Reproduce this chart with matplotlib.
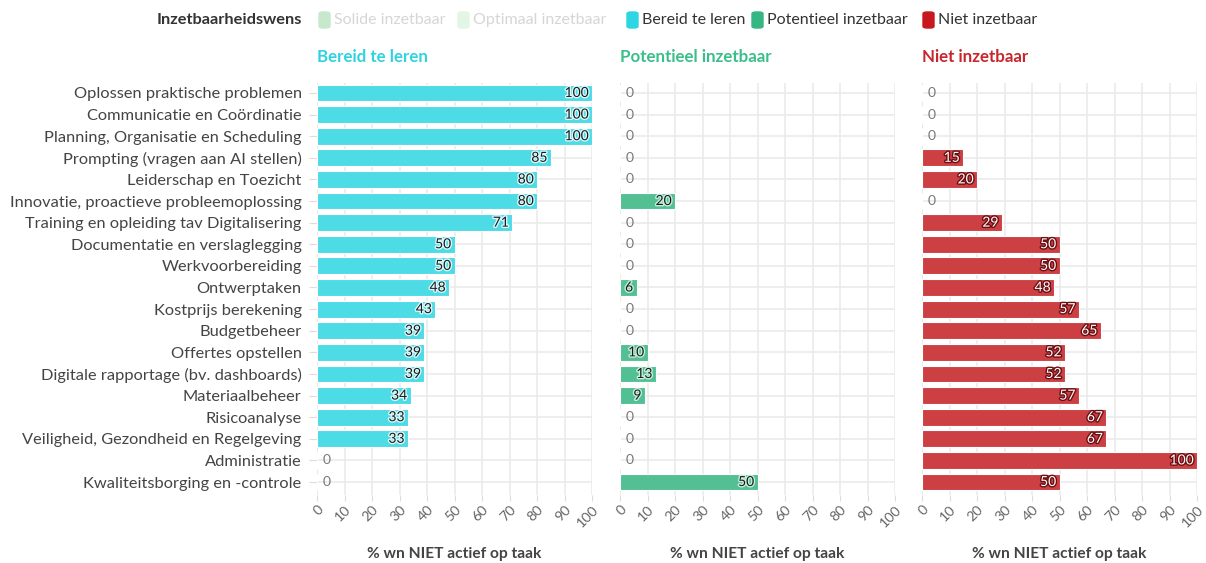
import numpy as np
import matplotlib
matplotlib.use("Agg")
from matplotlib import pyplot as plt
from matplotlib.patches import FancyBboxPatch
import matplotlib.patheffects as pe

plt.rcParams['font.family'] = ['Lato', 'DejaVu Sans']

taken = [
    "Oplossen praktische problemen",
    "Communicatie en Coördinatie",
    "Planning, Organisatie en Scheduling",
    "Prompting (vragen aan AI stellen)",
    "Leiderschap en Toezicht",
    "Innovatie, proactieve probleemoplossing",
    "Training en opleiding tav Digitalisering",
    "Documentatie en verslaglegging",
    "Werkvoorbereiding",
    "Ontwerptaken",
    "Kostprijs berekening",
    "Budgetbeheer",
    "Offertes opstellen",
    "Digitale rapportage (bv. dashboards)",
    "Materiaalbeheer",
    "Risicoanalyse",
    "Veiligheid, Gezondheid en Regelgeving",
    "Administratie",
    "Kwaliteitsborging en -controle",
]
bereid = [100, 100, 100, 85, 80, 80, 71, 50, 50, 48, 43, 39, 39, 39, 34, 33, 33, 0, 0]
potentieel = [0, 0, 0, 0, 0, 20, 0, 0, 0, 6, 0, 0, 10, 13, 9, 0, 0, 0, 50]
niet = [0, 0, 0, 15, 20, 0, 29, 50, 50, 48, 57, 65, 52, 52, 57, 67, 67, 100, 50]

legend_names = ["Solide inzetbaar", "Optimaal inzetbaar", "Bereid te leren",
                "Potentieel inzetbaar", "Niet inzetbaar"]
legend_colors = ["#c8e8cc", "#e3f5e6", "#2ed6e3", "#35b784", "#c8181f"]

panels = [
    ("Bereid te leren", bereid, "#4ddbe6", "#2fd3e0", "#1a1a1a", "#d8f8fa"),
    ("Potentieel inzetbaar", potentieel, "#52c093", "#3abf8b", "#1a1a1a", "#c6eedc"),
    ("Niet inzetbaar", niet, "#cc3f43", "#c8262d", "white", "#6b0f12"),
]

fig = plt.figure(figsize=(12.06, 5.63), dpi=100)
W, H = 1206, 563
lefts = [317, 620, 922]
width = 275
top, bottom = 83, 495
y = np.arange(len(taken))

for i, (title, vals, col, tcol, lcol, halo) in enumerate(panels):
    ax = fig.add_axes([lefts[i] / W, 1 - bottom / H, width / W, (bottom - top) / H])
    ax.barh(y, vals, height=0.78, color=col, edgecolor="white", linewidth=0.8, zorder=2)
    ax.set_xlim(0, 100)
    ax.set_ylim(len(taken) - 0.4, -0.46)
    ax.set_xticks(np.arange(0, 101, 10))
    ax.set_yticks(y)
    ax.grid(True, color="#ebebeb", linewidth=1.2, zorder=0)
    for s in ax.spines.values():
        s.set_visible(False)
    ax.axvline(0, color="#e2e2e2", linewidth=1.2, zorder=1)
    ax.tick_params(axis="x", length=4, color="#dddddd", labelsize=10.3,
                   labelcolor="#666666", pad=2)
    for lab in ax.get_xticklabels():
        lab.set_ha("right")
        lab.set_rotation_mode("anchor")
        lab.set_rotation(45)
    if i == 0:
        ax.set_yticklabels(taken, fontsize=11.8, color="#444444")
        ax.tick_params(axis="y", length=6, color="#dddddd", pad=5)
    else:
        ax.set_yticklabels([])
        ax.tick_params(axis="y", length=0)
    for yi, v in zip(y, vals):
        if v > 0:
            ax.text(v - 1.2, yi, str(v), ha="right", va="center", fontsize=10,
                    color=lcol, zorder=3,
                    path_effects=[pe.withStroke(linewidth=2, foreground=halo)])
        else:
            ax.text(2, yi, "0", ha="left", va="center", fontsize=10,
                    color="#777777", zorder=3)
    ax.set_xlabel("% wn NIET actief op taak", fontsize=11.2, fontweight="bold",
                  color="#444444", labelpad=13)
    ax.set_title(title, loc="left", fontsize=12.2, fontweight="bold", color=tcol, pad=15)

# legend row at the top
fig.text(157 / W, 1 - 20 / H, "Inzetbaarheidswens", fontsize=11.8, fontweight="bold",
         color="#333333", va="center", ha="left")
xpos = [319, 458, 627, 752, 923]
for k, (name, c, xp) in enumerate(zip(legend_names, legend_colors, xpos)):
    fig.patches.append(FancyBboxPatch((xp / W, 1 - 28 / H), 11 / W, 16 / H,
                                      boxstyle="round,pad=0,rounding_size=0.003",
                                      transform=fig.transFigure, color=c))
    fig.text((xp + 15) / W, 1 - 20 / H, name, fontsize=11.5, va="center", ha="left",
             color="#d6d6d6" if k < 2 else "#333333")

fig.savefig("out.png", dpi=100, facecolor="white")
